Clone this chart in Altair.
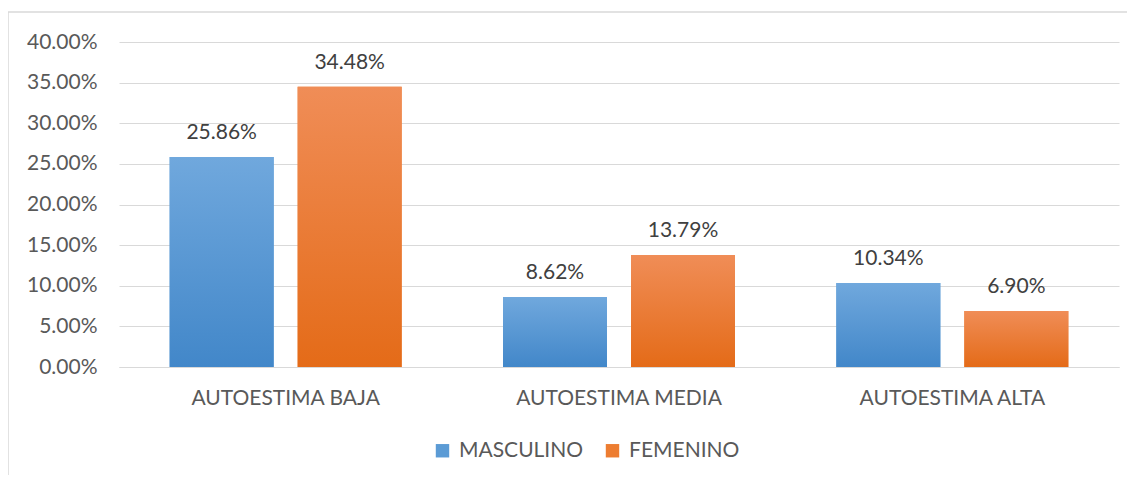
import altair as alt
import pandas as pd

categories = ["AUTOESTIMA BAJA", "AUTOESTIMA MEDIA", "AUTOESTIMA ALTA"]
series = ["MASCULINO", "FEMENINO"]
masculino = [0.2586, 0.0862, 0.1034]
femenino = [0.3448, 0.1379, 0.0690]
y_ticks = [0.0, 0.05, 0.10, 0.15, 0.20, 0.25, 0.30, 0.35, 0.40]

rows = []
for c, m, f in zip(categories, masculino, femenino):
    rows.append({"cat": c, "serie": series[0], "val": m})
    rows.append({"cat": c, "serie": series[1], "val": f})
df = pd.DataFrame(rows)

FONT = "Lato"
FS = 21
TXT = "#595959"
GRID = "#D9D9D9"

x_enc = alt.X("cat:N", sort=categories, title=None,
              scale=alt.Scale(paddingInner=0.232, paddingOuter=0.116),
              axis=alt.Axis(labelAngle=0, ticks=False, grid=False, domainColor=GRID,
                            domainWidth=1, labelPadding=20, labelLimit=0,
                            labelFontSize=FS, labelFont=FONT, labelColor=TXT))
xo_enc = alt.XOffset("serie:N", sort=series,
                     scale=alt.Scale(paddingInner=0.1875, paddingOuter=0.09375))
y_enc = alt.Y("val:Q", title=None,
              scale=alt.Scale(domain=[0, 0.4], nice=False),
              axis=alt.Axis(values=y_ticks, format=".2%", ticks=False, domain=False,
                            gridColor=GRID, gridWidth=1, labelPadding=22,
                            labelFontSize=FS, labelFont=FONT, labelColor=TXT))

solid = alt.Chart(df).mark_bar().encode(
    x=x_enc, xOffset=xo_enc, y=y_enc,
    color=alt.Color("serie:N", sort=series,
                    scale=alt.Scale(domain=series, range=["#5B9BD5", "#ED7D31"]),
                    legend=alt.Legend(title=None, orient="none", direction="horizontal",
                                      legendX=313, legendY=398, symbolType="square",
                                      symbolSize=180, symbolStrokeWidth=0,
                                      labelFontSize=FS, labelFont=FONT, labelColor=TXT,
                                      labelOffset=6, columnPadding=18, padding=0,
                                      labelLimit=0))
)

def grad(top, bottom):
    return alt.Gradient(gradient="linear",
                        stops=[alt.GradientStop(color=top, offset=0),
                               alt.GradientStop(color=bottom, offset=1)],
                        x1=0, x2=0, y1=0, y2=1)

blue = alt.Chart(df).transform_filter(alt.datum.serie == series[0]).mark_bar(
    color=grad("#70A8DD", "#4287C9")).encode(x=x_enc, xOffset=xo_enc, y=y_enc)
orange = alt.Chart(df).transform_filter(alt.datum.serie == series[1]).mark_bar(
    color=grad("#F08D57", "#E46B18")).encode(x=x_enc, xOffset=xo_enc, y=y_enc)

labels = alt.Chart(df).mark_text(
    baseline="alphabetic", dy=-18, fontSize=FS, font=FONT, color="#404040"
).encode(x=x_enc, xOffset=xo_enc, y=y_enc, text=alt.Text("val:Q", format=".2%"))

one = pd.DataFrame({"a": [0]})
border_left = alt.Chart(one).mark_rule(color=GRID, strokeWidth=1.5).encode(
    x=alt.value(-111), y=alt.value(-30), y2=alt.value(441))
border_top = alt.Chart(one).mark_rule(color=GRID, strokeWidth=1.5).encode(
    x=alt.value(-111), x2=alt.value(1010), y=alt.value(-30))

chart = alt.layer(solid, blue, orange, labels, border_left, border_top).properties(
    width=1000, height=325,
    background="white",
    autosize=alt.AutoSizeParams(type="none"),
    padding={"left": 111, "top": 34, "right": 8, "bottom": 108},
).configure_view(stroke="transparent", strokeWidth=0)

chart.save("out.html", embed_options={"renderer": "svg", "actions": False})
